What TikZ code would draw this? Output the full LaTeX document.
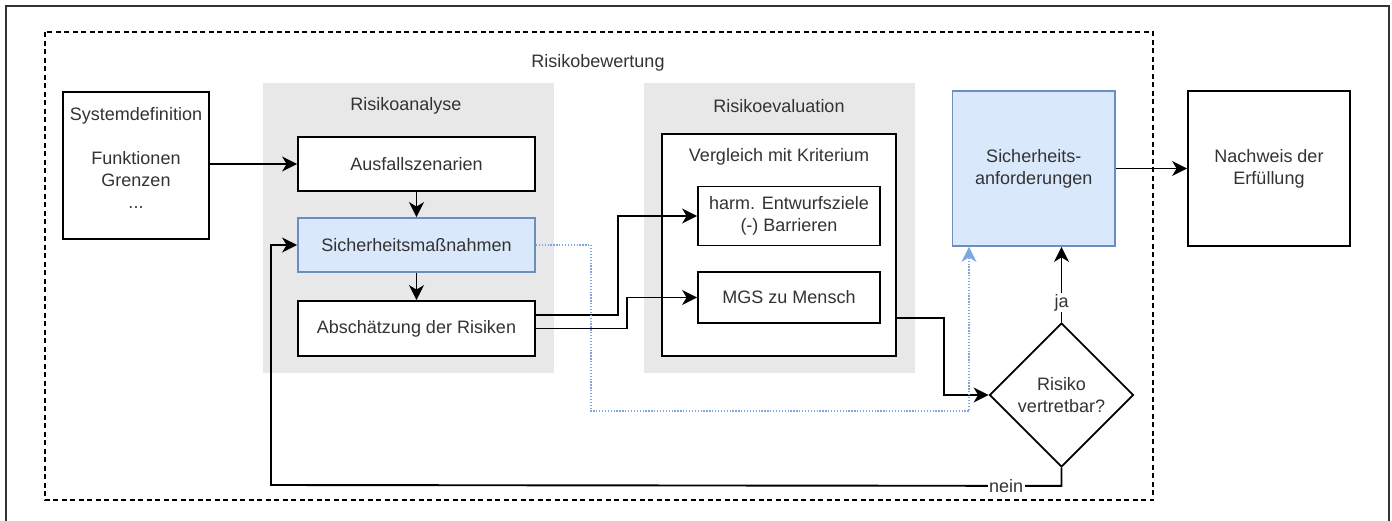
\documentclass[tikz,border=0pt]{standalone}
\usepackage{fontspec}
\setmainfont{Liberation Sans}
\usetikzlibrary{arrows.meta,shapes.geometric}
\definecolor{txt}{HTML}{333333}
\definecolor{greyfill}{HTML}{E8E8E8}
\definecolor{bluefill}{HTML}{DAE8FC}
\definecolor{bluestroke}{HTML}{6C8EBF}
\definecolor{dotblue}{HTML}{7EA6E0}
\newcommand\diagfont{\fontsize{18}{22}\selectfont}
\begin{document}
\begin{tikzpicture}[x=1pt,y=-1pt,
  box/.style={draw=black, line width=1.8pt, fill=white, inner sep=0pt, font=\diagfont, text=txt, align=center},
  bluebox/.style={box, fill=bluefill, draw=bluestroke},
  greybox/.style={fill=greyfill, draw=none, inner sep=0pt},
  title/.style={font=\diagfont, text=txt, inner sep=0pt},
  conn/.style={draw=black, line width=1.9pt, -{Stealth[length=15pt,width=15pt,inset=4.5pt]}},
  dotconn/.style={draw=dotblue, line width=1.3pt, dash pattern=on 1.3pt off 1.6pt, -{Stealth[length=15pt,width=15pt,inset=4.5pt,fill=dotblue]}},
  lbl/.style={fill=white, inner sep=1.5pt, font=\diagfont, text=txt}
]
\useasboundingbox (0,0) rectangle (1392,520);
\fill[white] (0,0) rectangle (1392,520);
% outer frame (cut at the bottom)
\draw[line width=1.5pt, draw=txt] (6,521) -- (6,6) -- (1389,6) -- (1389,521);
% dashed frame
\draw[line width=1.4pt, dash pattern=on 5pt off 3.5pt] (45,32) rectangle (1153,500);
\node[title] (rbtitle) at (598,63) {Risikobewertung};

% grey groups
\node[greybox, minimum width=291pt, minimum height=290pt] (ragrey) at (408,228) {};
\node[greybox, minimum width=271pt, minimum height=290pt] (regrey) at (779.5,228) {};
\node[title] (ratitle) at (406,106) {Risikoanalyse};
\node[title] (retitle) at (779,106) {Risikoevaluation};

% boxes
\node[box, minimum width=146pt, minimum height=147pt] (sysdef) at (136,165.5) {};
\node[title, align=center] (sysdeftxt) at (136,158) {Systemdefinition\\\strut\\Funktionen\\Grenzen\\...};

\node[box, minimum width=237pt, minimum height=54pt] (aus) at (416.5,164) {Ausfallszenarien};
\node[bluebox, minimum width=237pt, minimum height=54pt] (sich) at (416.5,245) {Sicherheitsmaßnahmen};
\node[box, minimum width=237pt, minimum height=55pt] (absch) at (416.5,328.5) {Abschätzung der Risiken};

\node[box, minimum width=234pt, minimum height=222pt] (verg) at (779,245) {};
\node[title] (vergtxt) at (779,157) {Vergleich mit Kriterium};
\node[box, minimum width=182pt, minimum height=59pt] (harm) at (789,216) {harm. Entwurfsziele\\(-) Barrieren};
\node[box, minimum width=182pt, minimum height=51pt] (mgs) at (789,297.5) {MGS zu Mensch};

\node[bluebox, minimum width=162.5pt, minimum height=155pt] (sreq) at (1033.75,168.5) {Sicherheits-\\anforderungen};
\node[box, minimum width=162pt, minimum height=155pt] (nach) at (1269,168.5) {Nachweis der\\Erfüllung};

\node[box, diamond, minimum width=144pt, minimum height=144pt] (diam) at (1061.5,395) {Risiko\\vertretbar?};

% connectors
\draw[conn] (sysdef.east |- aus.west) -- (aus.west);
\draw[conn] (aus.south) -- (sich.north);
\draw[conn] (sich.south) -- (absch.north);
\draw[conn] ([yshift=13.5pt]absch.east) -- ++(82,0) |- (harm.west);
\draw[conn] (absch.east) -- ++(91,0) |- (mgs.west);
\draw[conn] ([yshift=-73pt]verg.east) -- ++(47,0) |- (diam.west);
\draw[conn] (diam.north) -- (diam.north |- sreq.south) node[lbl, pos=0.26] {ja};
\draw[conn] (sreq) -- (nach);
\draw[conn] (diam.south) -- ++(0,18) -- (271,485) node[lbl, pos=0.07] {nein} |- (sich.west);
\draw[dotconn] (sich.east) -- ++(55,0) -- ++(0,166) -| ([xshift=-64.75pt]sreq.south);
\end{tikzpicture}
\end{document}
